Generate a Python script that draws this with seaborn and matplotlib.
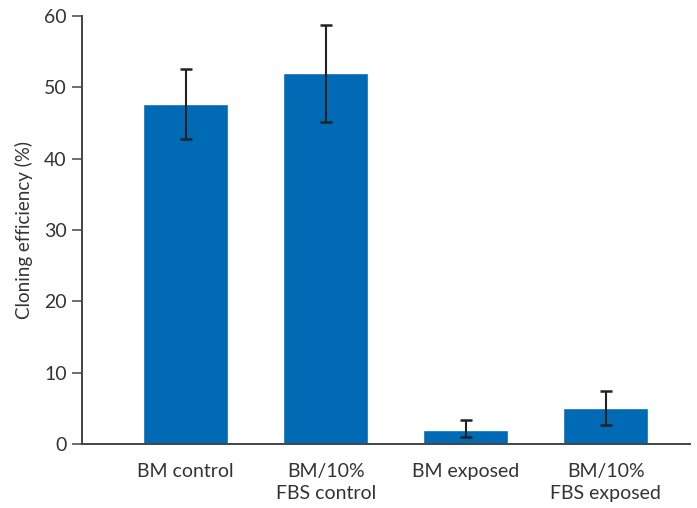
import matplotlib
matplotlib.use("Agg")
import matplotlib.pyplot as plt
import seaborn as sns
import pandas as pd

# Cloning efficiency per culture condition
categories = ["BM control", "BM/10%\nFBS control", "BM exposed", "BM/10%\nFBS exposed"]
efficiency = [47.6, 52.0, 2.0, 5.0]
err_low = [4.9, 6.9, 1.0, 2.4]
err_high = [5.0, 6.7, 1.4, 2.4]

sns.set_theme(style="ticks")
plt.rcParams["font.family"] = ["Lato", "DejaVu Sans"]

df = pd.DataFrame({"condition": categories, "efficiency": efficiency})

fig = plt.figure(figsize=(6.97, 5.08), dpi=100)
ax = fig.add_axes([0.1176, 0.126, 0.872, 0.8425])

bar_color = "#006AB4"
sns.barplot(data=df, x="condition", y="efficiency", color=bar_color,
            saturation=1, width=0.61, errorbar=None, ax=ax)

ax.errorbar(range(len(categories)), efficiency, yerr=[err_low, err_high],
            fmt="none", ecolor="#222222", elinewidth=1.5, capsize=4.5,
            capthick=1.8)

ax.set_xlim(-0.74, 3.6)
ax.set_ylim(0, 60)
ax.set_yticks(range(0, 61, 10))
ax.set_xlabel("")
ax.set_ylabel("Cloning efficiency (%)", fontsize=13.5, color="#333333", labelpad=8)

text_color = "#333333"
ax.tick_params(axis="y", direction="out", length=7, width=1.2, colors="#555555",
               labelcolor=text_color, labelsize=14, pad=4)
ax.tick_params(axis="x", length=0, labelcolor=text_color, labelsize=14, pad=14)
for lbl in ax.get_xticklabels():
    lbl.set_linespacing(1.35)

sns.despine(ax=ax)
for side in ("left", "bottom"):
    ax.spines[side].set_color("#444444")
    ax.spines[side].set_linewidth(1.4)

fig.savefig("out.png", dpi=100)
